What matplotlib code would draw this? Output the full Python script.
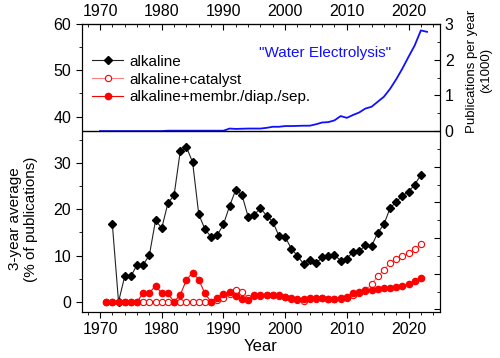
import matplotlib
matplotlib.use("Agg")
import matplotlib.pyplot as plt
import numpy as np
from matplotlib.ticker import MultipleLocator, FuncFormatter

plt.rcParams['font.family'] = ['Liberation Sans', 'DejaVu Sans']

# 3-year averages (% of publications)
years_alk = list(range(1972, 2023))
alkaline = [16.7, 0.0, 5.5, 5.5, 8.0, 8.0, 10.1, 17.6, 15.9, 21.3,
            23.0, 32.5, 33.4, 30.2, 18.9, 15.7, 14.0, 14.4, 16.7, 20.7,
            24.2, 23.1, 18.4, 18.8, 20.2, 18.6, 17.3, 14.2, 14.0, 11.5,
            9.9, 8.2, 9.1, 8.3, 9.6, 9.9, 10.1, 8.9, 9.3, 10.8,
            10.9, 12.2, 12.0, 14.9, 16.7, 20.2, 21.6, 22.9, 23.8, 25.3,
            27.4]

years_red = list(range(1971, 2023))
catalyst = [0, 0, 0, 0, 0, 0, 0, 0, 0, 0,
            0, 0, 0, 0, 0, 0, 0, 0, 0.3, 0.8,
            1.6, 2.5, 2.1, 0.9, 1.2, 1.3, 1.5, 1.5, 1.3, 1.0,
            0.6, 0.3, 0.1, 0.5, 0.7, 0.8, 0.6, 0.7, 0.5, 0.8,
            1.5, 1.9, 2.4, 3.8, 5.5, 6.8, 8.4, 9.3, 10.0, 10.5,
            11.3, 12.4]
membrane = [0, 0, 0, 0, 0, 0, 1.9, 1.9, 3.5, 1.8,
            1.8, 0.0, 1.5, 4.7, 6.3, 4.8, 1.8, 0.0, 0.9, 1.7,
            2.1, 1.2, 0.5, 0.4, 1.4, 1.5, 1.5, 1.4, 1.4, 1.1,
            0.8, 0.5, 0.6, 0.8, 0.9, 0.8, 0.7, 0.7, 0.8, 1.0,
            1.9, 2.1, 2.5, 2.5, 2.8, 2.9, 3.0, 3.2, 3.5, 3.8,
            4.4, 5.1]

# "Water Electrolysis" publications per year (x1000)
years_we = list(range(1970, 2024))
water_el = [0, 0, 0, 0, 0, 0, 0, 0, 0, 0,
            0, 0.01, 0.01, 0.01, 0.01, 0.01, 0.01, 0.01, 0.01, 0.01,
            0.01, 0.07, 0.06, 0.065, 0.07, 0.07, 0.07, 0.09, 0.12, 0.12,
            0.14, 0.14, 0.145, 0.15, 0.15, 0.19, 0.24, 0.25, 0.30, 0.42,
            0.37, 0.45, 0.52, 0.63, 0.68, 0.82, 0.96, 1.18, 1.45, 1.75,
            2.08, 2.40, 2.82, 2.78]

fig = plt.figure(figsize=(5.0, 3.58), dpi=100)
ax = fig.add_axes([0.1634, 0.1285, 0.7166, 0.8045])

ax.plot(years_alk, alkaline, color='#222222', lw=0.8, marker='D', ms=4.5,
        mfc='black', mec='black', label='alkaline', zorder=3)
ax.plot(years_red, catalyst, color='#ff8080', lw=0.8, marker='o', ms=4.5,
        mfc='white', mec='red', mew=0.8, label='alkaline+catalyst', zorder=3)
ax.plot(years_red, membrane, color='red', lw=0.8, marker='o', ms=4.5,
        mfc='red', mec='red', label='alkaline+membr./diap./sep.', zorder=4)

ax.set_xlim(1967.03, 2025.1)
ax.set_ylim(-2.2, 60)
ax.xaxis.set_major_locator(MultipleLocator(10))
ax.xaxis.set_minor_locator(MultipleLocator(2))
ax.yaxis.set_major_locator(MultipleLocator(10))
ax.yaxis.set_minor_locator(MultipleLocator(5))
ax.tick_params(which='both', direction='out', labelsize=11.5, top=False, right=False)
ax.tick_params(which='major', length=4)
ax.tick_params(which='minor', length=2.5)
ax.set_xlabel('Year', fontsize=12, labelpad=1)
ax.set_ylabel('3-year average\n(% of publications)', fontsize=11, labelpad=2)
ax.yaxis.set_label_coords(-0.122, 0.323)

leg = ax.legend(loc='upper left', bbox_to_anchor=(0.0, 0.93), frameon=False,
                fontsize=11, handlelength=2.0, handletextpad=0.4,
                labelspacing=0.25, borderaxespad=0.3)

# top axis with years
top = ax.secondary_xaxis('top')
top.xaxis.set_major_locator(MultipleLocator(10))
top.xaxis.set_minor_locator(MultipleLocator(2))
top.tick_params(which='both', direction='in', labelsize=11.5)
top.tick_params(which='major', length=4)
top.tick_params(which='minor', length=2.5)

# right axis: publications per year
ax2 = ax.twinx()
ax2.plot(years_we, water_el, color='#1010ff', lw=1.3)
ax2.axhline(0, color='black', lw=1.0)
ax2.set_ylim(-5.07, 3.0)
ax2.yaxis.set_major_locator(MultipleLocator(1))
ax2.yaxis.set_minor_locator(MultipleLocator(0.5))
ax2.yaxis.set_major_formatter(FuncFormatter(lambda v, p: '%d' % v if v >= 0 else ''))
ax2.tick_params(which='both', direction='in', labelsize=11.5)
ax2.tick_params(which='major', length=4)
ax2.tick_params(which='minor', length=2.5)
ax2.set_ylabel('Publications per year\n(x1000)', fontsize=9.5, labelpad=4)
ax2.yaxis.set_label_coords(1.073, 0.837)
ax2.text(2006.5, 2.2, '"Water Electrolysis"', color='#1010ff', fontsize=11,
         ha='center', va='center')

fig.savefig('out.png', dpi=100)
